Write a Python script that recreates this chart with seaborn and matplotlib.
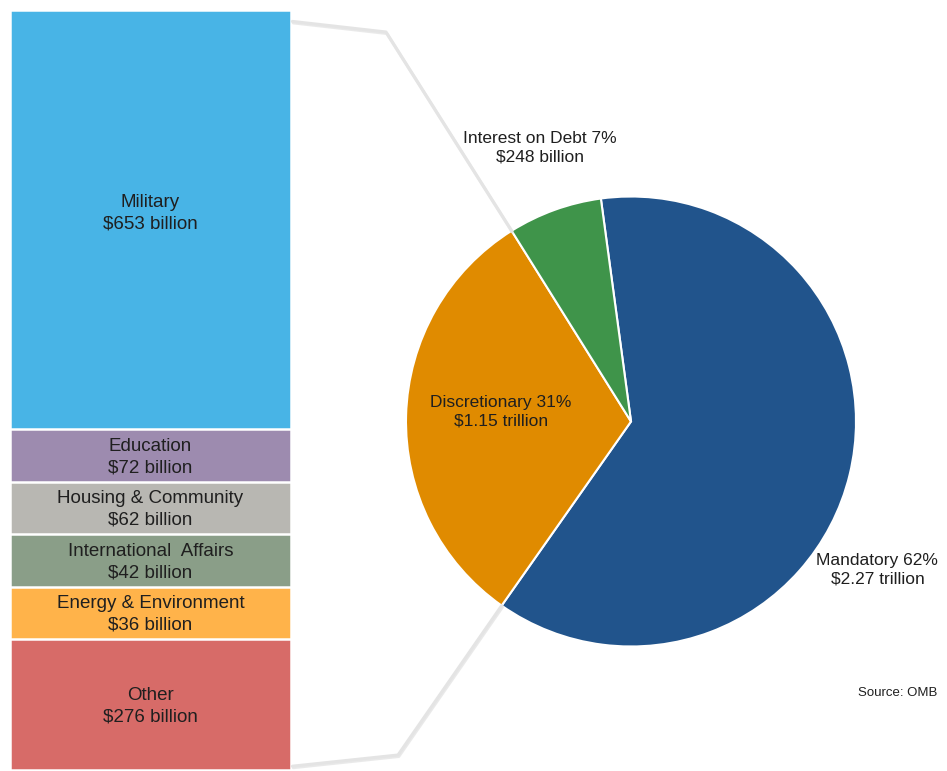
import numpy as np
import pandas as pd
import matplotlib
matplotlib.use("Agg")
import matplotlib.pyplot as plt
from matplotlib.lines import Line2D
import seaborn as sns

# ---- data ----
pie_categories = ["Mandatory", "Discretionary", "Interest on Debt"]
pie_values_bn = [2270, 1150, 248]
pie_pct_labels = ["62%", "31%", "7%"]
pie_amount_labels = ["$2.27 trillion", "$1.15 trillion", "$248 billion"]

bar_categories = ["Military", "Education", "Housing & Community",
                  "International  Affairs", "Energy & Environment", "Other"]
bar_values_bn = [653, 72, 62, 42, 36, 276]
# relative segment heights as drawn in the reference (not proportional)
bar_display_weights = [8, 1, 1, 1, 1, 2.5]

# ---- style ----
sns.set_theme(style="white")
plt.rcParams["font.family"] = ["Liberation Sans", "DejaVu Sans"]
TXT = "#1f1f1f"
pie_colors = ["#21548C", "#E08B00", "#3F944A"]
bar_colors = ["#48B4E6", "#9D8BAF", "#B8B7B2", "#8A9E88", "#FFB34A", "#D76B68"]

W, H = 947, 771
fig = plt.figure(figsize=(W / 100, H / 100), dpi=100)
fig.patch.set_facecolor("white")

# ---- stacked bar (left) ----
ax_bar = fig.add_axes([10 / W, 1 / H, 281 / W, 760 / H])
df = pd.DataFrame({"cat": bar_categories, "val": bar_values_bn,
                   "w": bar_display_weights, "color": bar_colors})
df_rev = df.iloc[::-1].reset_index(drop=True)
df_rev["top"] = df_rev["w"].cumsum()
df_rev["bottom"] = df_rev["top"] - df_rev["w"]
total = df_rev["top"].iloc[-1]
for i in range(len(df_rev) - 1, -1, -1):
    row = df_rev.iloc[i]
    sns.barplot(x=["stack"], y=[row["top"]], color=row["color"], width=1.0,
                saturation=1, edgecolor="white", linewidth=1.8, ax=ax_bar)
for _, row in df_rev.iterrows():
    yc = (row["top"] + row["bottom"]) / 2
    if row["cat"] == "Military":
        yc += 0.15
    ax_bar.text(0, yc - 0.03, f"{row['cat']}\n${row['val']} billion",
                ha="center", va="center", fontsize=13.5, color=TXT,
                linespacing=1.35)
ax_bar.set_xlim(-0.5, 0.5)
ax_bar.set_ylim(0, total)
ax_bar.axis("off")

# ---- pie (right) ----
ax_pie = fig.add_axes([406 / W, (H - 646.5) / H, 450 / W, 450 / H])
wedges, _ = ax_pie.pie(pie_values_bn, colors=pie_colors, startangle=97.7,
                       counterclock=False,
                       wedgeprops=dict(edgecolor="white", linewidth=1.5))
ax_pie.set_xlim(-1, 1)
ax_pie.set_ylim(-1, 1)
ax_pie.set_aspect("equal")
ax_pie.axis("off")

label_pos = {"Mandatory": (1.095, -0.66),
             "Discretionary": (-0.578, 0.045),
             "Interest on Debt": (-0.404, 1.218)}
for cat, pct, amt in zip(pie_categories, pie_pct_labels, pie_amount_labels):
    x, y = label_pos[cat]
    ax_pie.text(x, y, f"{cat} {pct}\n{amt}", ha="center", va="center",
                fontsize=12.5, color=TXT, linespacing=1.3)

# ---- connector lines from bar to discretionary wedge ----
disc = wedges[1]
def pie_point(angle_deg):
    a = np.deg2rad(angle_deg)
    return ax_pie.transData.transform((np.cos(a), np.sin(a)))

p1, p2 = pie_point(disc.theta1), pie_point(disc.theta2)
upper, lower = (p1, p2) if p1[1] > p2[1] else (p2, p1)
inv = fig.transFigure.inverted()
top_pts = [ax_bar.transAxes.transform((1.005, 0.985)),
           fig.transFigure.transform((386 / W, 1 - 32 / H)),
           upper]
bot_pts = [ax_bar.transAxes.transform((1.005, 0.005)),
           fig.transFigure.transform((398 / W, 1 - 755 / H)),
           lower]
for pts in (top_pts, bot_pts):
    fpts = inv.transform(np.array(pts))
    shadow = fpts + np.array([0.8 / W, -1.5 / H])
    fig.add_artist(Line2D(shadow[:, 0], shadow[:, 1], transform=fig.transFigure,
                          color="#D5D5D5", lw=2.2, alpha=0.5, zorder=0.5,
                          solid_capstyle="round"))
    fig.add_artist(Line2D(fpts[:, 0], fpts[:, 1], transform=fig.transFigure,
                          color="#E4E4E4", lw=2.2, zorder=0.6,
                          solid_capstyle="round", solid_joinstyle="round"))

fig.text(937 / W, 1 - 693 / H, "Source: OMB", ha="right", va="center",
         fontsize=9.5, color=TXT)

fig.savefig("out.png", dpi=100, facecolor="white")
